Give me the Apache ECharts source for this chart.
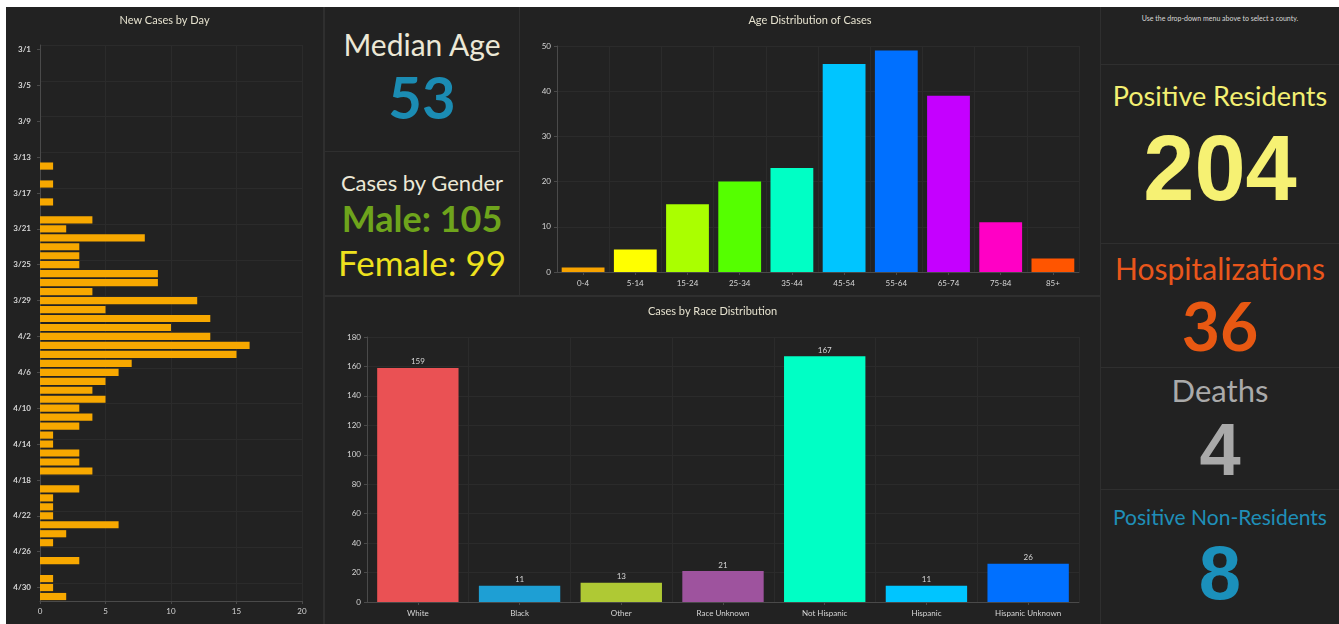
<!DOCTYPE html>
<html>
<head>
<meta charset="utf-8">
<script src="https://cdn.jsdelivr.net/npm/echarts@6/dist/echarts.min.js"></script>
<style>
  html, body { margin: 0; padding: 0; }
  body { width: 1339px; height: 624px; background: #fff; position: relative; overflow: hidden; font-family: Lato, sans-serif; }
  #board { position: absolute; left: 6px; top: 7px; width: 1333px; height: 617px; background: #2f2f2f; }
  .panel { position: absolute; background: #222222; }
  .txt { position: absolute; left: 0; right: 0; text-align: center; white-space: nowrap; }
  .num { font-family: "Liberation Sans", Arial, sans-serif; font-weight: bold; }
</style>
</head>
<body>
<div id="board"></div>

<div class="panel" id="days" style="left:6px;top:7px;width:317px;height:617px"></div>

<div class="panel" style="left:325px;top:7px;width:194px;height:144px">
  <div class="txt" style="top:19px;font-size:30px;line-height:36px;color:#ece8d6">Median Age</div>
  <div class="txt" style="top:60px;font-size:58px;line-height:60px;color:#1b8cb3;font-weight:bold">53</div>
</div>
<div class="panel" style="left:325px;top:152px;width:194px;height:143px">
  <div class="txt" style="top:17px;font-size:22px;line-height:28px;color:#ece8d6">Cases by Gender</div>
  <div class="txt" style="top:45px;font-size:36px;line-height:42px;color:#6ea41c;font-weight:bold">Male: 105</div>
  <div class="txt" style="top:90px;font-size:35px;line-height:40px;color:#eee11e">Female: 99</div>
</div>

<div class="panel" id="age" style="left:520px;top:7px;width:580px;height:288px"></div>
<div class="panel" id="race" style="left:325px;top:297px;width:775px;height:327px"></div>

<div class="panel" style="left:1101px;top:7px;width:238px;height:57px">
  <div class="txt" style="top:7px;font-size:7px;line-height:9px;color:#d8d8d8">Use the drop-down menu above to select a county.</div>
</div>
<div class="panel" style="left:1101px;top:65px;width:238px;height:178px">
  <div class="txt" style="top:15px;font-size:27px;line-height:32px;color:#f3ef72">Positive Residents</div>
  <div class="txt num" style="top:53px;font-size:92px;line-height:100px;color:#f6f173">204</div>
</div>
<div class="panel" style="left:1101px;top:244px;width:238px;height:123px">
  <div class="txt" style="top:7px;font-size:30px;line-height:34px;color:#e9561b">Hospitalizations</div>
  <div class="txt" style="top:45px;font-size:66px;line-height:74px;color:#e85812;font-weight:bold">36</div>
</div>
<div class="panel" style="left:1101px;top:368px;width:238px;height:121px">
  <div class="txt" style="top:5px;font-size:31px;line-height:34px;color:#aaaaaa">Deaths</div>
  <div class="txt num" style="top:41px;font-size:74px;line-height:82px;color:#a9a9a9">4</div>
</div>
<div class="panel" style="left:1101px;top:490px;width:238px;height:134px">
  <div class="txt" style="top:13px;font-size:21px;line-height:28px;color:#1f8fb8">Positive Non-Residents</div>
  <div class="txt num" style="top:40px;font-size:76px;line-height:86px;color:#1b90bb">8</div>
</div>

<script>
// new cases by day
const dayLabels = [
  '3/1','3/2','3/3','3/4','3/5','3/6','3/7','3/8','3/9','3/10','3/11','3/12','3/13','3/14','3/15','3/16',
  '3/17','3/18','3/19','3/20','3/21','3/22','3/23','3/24','3/25','3/26','3/27','3/28','3/29','3/30','3/31',
  '4/1','4/2','4/3','4/4','4/5','4/6','4/7','4/8','4/9','4/10','4/11','4/12','4/13','4/14','4/15','4/16',
  '4/17','4/18','4/19','4/20','4/21','4/22','4/23','4/24','4/25','4/26','4/27','4/28','4/29','4/30','5/1'
];
const dayCases = [
  0,0,0,0,0,0,0,0,0,0,0,0,0,1,0,1,
  0,1,0,4,2,8,3,3,3,9,9,4,12,5,13,
  10,13,16,15,7,6,5,4,5,3,4,3,1,1,3,3,
  4,0,3,1,1,1,6,2,1,0,3,0,1,1,2
];

// age distribution
const ageGroups = ['0-4','5-14','15-24','25-34','35-44','45-54','55-64','65-74','75-84','85+'];
const ageCases = [1, 5, 15, 20, 23, 46, 49, 39, 11, 3];
const ageColors = ['#f7a300','#ffff00','#aaff00','#55ff00','#00ffc5','#00c5ff','#0070ff','#c500ff','#ff00c5','#ff5500'];

// race distribution
const raceGroups = ['White','Black','Other','Race Unknown','Not Hispanic','Hispanic','Hispanic Unknown'];
const raceCases = [159, 11, 13, 21, 167, 11, 26];
const raceColors = ['#ea5154','#1e9fd4','#afc934','#9e539e','#00ffc5','#00c5ff','#0070ff'];

const FONT = 'Lato';
const labelColor = '#d6d6d6';
const gridColor = '#2b2b2b';
const axisColor = '#4a4a4a';

const titleOpt = (text, top)=>({
  text,
  left: 'center',
  top,
  textStyle: {color: '#e6e2cf', fontSize: 11, fontWeight: 'normal', fontFamily: FONT}
});

const valueAxis = (max, interval)=>({
  type: 'value',
  min: 0,
  max,
  interval,
  axisLine: {show: true, lineStyle: {color: axisColor}},
  axisTick: {show: true, length: 3, lineStyle: {color: axisColor}},
  axisLabel: {color: labelColor, fontSize: 8, fontFamily: FONT, margin: 6},
  splitLine: {show: true, lineStyle: {color: gridColor}}
});

const catAxis = (data, extra={})=>Object.assign({
  type: 'category',
  data,
  axisLine: {show: true, lineStyle: {color: axisColor}},
  axisTick: {show: true, alignWithLabel: true, length: 3, lineStyle: {color: axisColor}},
  axisLabel: {color: labelColor, fontSize: 8, fontFamily: FONT, margin: 7},
  splitLine: {show: true, lineStyle: {color: gridColor}}
}, extra);

const daysChart = echarts.init(document.getElementById('days'));
daysChart.setOption({
  animation: false,
  title: titleOpt('New Cases by Day', 3),
  grid: {left: 34, right: 21, top: 38, bottom: 23, containLabel: false},
  xAxis: valueAxis(20, 5),
  yAxis: catAxis(dayLabels, {
    inverse: true,
    axisLabel: {color: labelColor, fontSize: 8, fontFamily: FONT, margin: 9, interval: 3, fontWeight: 'bold'},
    axisTick: {show: true, alignWithLabel: true, interval: 3, length: 3, lineStyle: {color: axisColor}},
    splitLine: {show: true, interval: 3, lineStyle: {color: gridColor}}
  }),
  series: [{
    type: 'bar',
    data: dayCases,
    barCategoryGap: '20%',
    itemStyle: {color: '#f7a800'}
  }]
});

const ageChart = echarts.init(document.getElementById('age'));
ageChart.setOption({
  animation: false,
  title: titleOpt('Age Distribution of Cases', 3),
  grid: {left: 37, right: 21, top: 39, bottom: 23, containLabel: false},
  xAxis: catAxis(ageGroups),
  yAxis: valueAxis(50, 10),
  series: [{
    type: 'bar',
    data: ageCases.map((v, i)=>({value: v, itemStyle: {color: ageColors[i]}})),
    barCategoryGap: '18%'
  }]
});

const raceChart = echarts.init(document.getElementById('race'));
raceChart.setOption({
  animation: false,
  title: titleOpt('Cases by Race Distribution', 4),
  grid: {left: 42, right: 21, top: 40, bottom: 22, containLabel: false},
  xAxis: catAxis(raceGroups),
  yAxis: valueAxis(180, 20),
  series: [{
    type: 'bar',
    data: raceCases.map((v, i)=>({value: v, itemStyle: {color: raceColors[i]}})),
    barCategoryGap: '20%',
    label: {show: true, position: 'top', distance: 2, color: labelColor, fontSize: 8, fontFamily: FONT}
  }]
});
</script>
</body>
</html>
